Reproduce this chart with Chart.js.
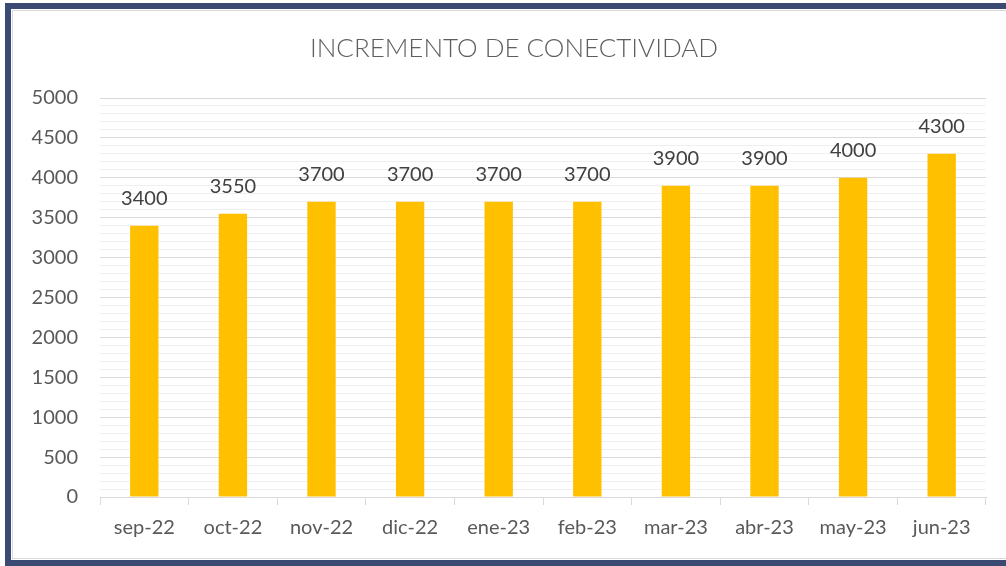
<!DOCTYPE html>
<html><head><meta charset="utf-8">
<script src="https://cdn.jsdelivr.net/npm/chart.js@4"></script>
<style>html,body{margin:0;padding:0;background:#fff;overflow:hidden}#w{width:1006px;height:566px}</style>
</head><body><div id="w"><canvas id="c" width="1006" height="566"></canvas></div>
<script>
const chartTitle = 'INCREMENTO DE CONECTIVIDAD';
const categories = ['sep-22','oct-22','nov-22','dic-22','ene-23','feb-23','mar-23','abr-23','may-23','jun-23'];
const values = [3400,3550,3700,3700,3700,3700,3900,3900,4000,4300];
const yMax = 5000, yMajor = 500, yMinor = 100;

const FONT = 'Lato, "Open Sans", sans-serif';

const framePlugin = {
  id:'frame',
  beforeDraw(chart){
    const ctx = chart.ctx;
    ctx.save();
    ctx.fillStyle='#fff'; ctx.fillRect(0,0,chart.width,chart.height);
    ctx.strokeStyle='#d9d9d9'; ctx.lineWidth=1;
    ctx.strokeRect(12.5,10.5,1010,548);
    ctx.strokeStyle='#3a4a72'; ctx.lineWidth=6;
    ctx.strokeRect(8,6,1010,557);
    ctx.fillStyle='#5e5e5e'; ctx.font='300 26px '+FONT; ctx.textAlign='center'; ctx.textBaseline='middle';
    ctx.fillText(chartTitle, 514, 49);
    ctx.restore();
  },
  afterDatasetsDraw(chart){
    const ctx = chart.ctx, meta = chart.getDatasetMeta(0);
    ctx.save();
    ctx.fillStyle='#404040'; ctx.font='20px '+FONT; ctx.textAlign='center'; ctx.textBaseline='bottom';
    meta.data.forEach((b,i)=>{ ctx.fillText(String(values[i]), b.x, b.y-17); });
    ctx.restore();
  }
};

new Chart(document.getElementById('c'), {
  type:'bar',
  data:{ labels:categories, datasets:[{ data:values, backgroundColor:'#ffc000', borderWidth:0, barPercentage:0.32, categoryPercentage:1 }]},
  options:{
    responsive:false, animation:false,
    layout:{ padding:{ left:20, right:20, top:98, bottom:15 } },
    plugins:{ legend:{display:false}, tooltip:{enabled:false}, title:{display:false} },
    scales:{
      x:{
        grid:{ display:true, drawOnChartArea:false, drawTicks:true, tickLength:8, color:'#d9d9d9', offset:true },
        border:{ display:true, color:'#d9d9d9', width:1 },
        ticks:{ color:'#595959', font:{ family:FONT, size:20 }, padding:11 }
      },
      y:{
        min:0, max:yMax,
        afterFit(s){ s.width = 80; },
        grid:{ drawTicks:false, color:(c)=> (c.tick && c.tick.value % yMajor === 0) ? '#d9d9d9' : '#efefef', lineWidth:1 },
        border:{ display:false },
        ticks:{ stepSize:yMinor, autoSkip:false, color:'#595959', font:{ family:FONT, size:20 }, padding:22,
          callback:(v)=> (v % yMajor === 0) ? String(v) : '' }
      }
    }
  },
  plugins:[framePlugin]
});
</script></body></html>
